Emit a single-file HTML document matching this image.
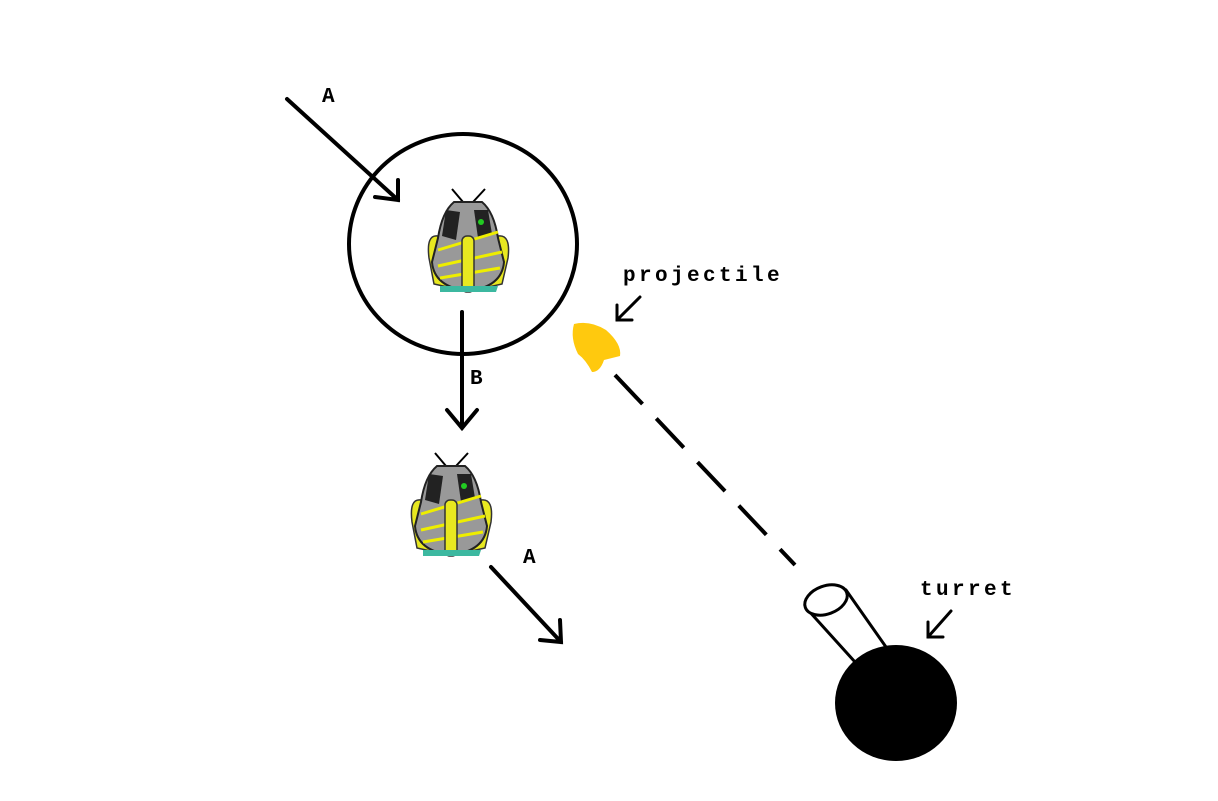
<!DOCTYPE html>
<html><head><style>body{margin:0;background:#fff}svg{display:block}text{font-family:"Liberation Mono",monospace;font-weight:bold;font-size:21px;fill:#000;letter-spacing:3.4px}</style></head>
<body>
<svg width="1218" height="801" viewBox="0 0 1218 801" xmlns="http://www.w3.org/2000/svg">
<defs>
<g id="ship">
<line x1="463" y1="202" x2="452" y2="189" stroke="#000" stroke-width="2"/>
<line x1="473" y1="202" x2="485" y2="189" stroke="#000" stroke-width="2"/>
<path d="M438 236 Q426 234 429 258 L434 284 L452 288 Z" fill="#e8e820" stroke="#333" stroke-width="1.5"/>
<path d="M498 236 Q511 234 508 258 L502 284 L484 288 Z" fill="#e8e820" stroke="#333" stroke-width="1.5"/>
<path d="M454 202 L482 202 Q494 212 498 238 L504 262 Q502 287 468 291 Q434 287 432 262 L438 238 Q442 212 454 202 Z" fill="#999" stroke="#222" stroke-width="2"/>
<path d="M446 210 L460 212 L456 240 L442 236 Z" fill="#222"/>
<path d="M474 210 L488 210 L492 234 L478 238 Z" fill="#222"/>
<circle cx="481" cy="222" r="3" fill="#2c2"/>
<path d="M438 250 L498 232 M438 266 L502 252 M440 278 L500 268" stroke="#ee0" stroke-width="3"/>
<rect x="462" y="236" width="12" height="56" rx="5" fill="#e8e820" stroke="#333" stroke-width="1.5"/>
<path d="M440 286 L498 286 L496 292 L440 292 Z" fill="#3cb8a0"/>
</g>
</defs>
<use href="#ship"/>
<use href="#ship" transform="translate(-17,264)"/>
<ellipse cx="463" cy="244" rx="114" ry="110" fill="none" stroke="#000" stroke-width="4"/>
<g stroke="#000" stroke-width="4" fill="none" stroke-linecap="round">
<path d="M287 99 L398 200 M375 197 L398 200 L398 180"/>
<path d="M462 312 L462 428 M447 410 L462 428 L477 410"/>
<path d="M491 567 L561 642 M540 640 L561 642 L560 620"/>
<path d="M640 297 L617 320 M617 305 L617 320 L632 320" stroke-width="3"/>
<path d="M951 611 L928 637 M928 622 L928 637 L943 637" stroke-width="3"/>
<path d="M615 375 L795 565" stroke-dasharray="40 20" stroke-linecap="butt"/>
<path d="M808 610 L855 662 M846 590 L886 647" stroke-width="3"/>
<ellipse cx="826" cy="600" rx="22" ry="14" transform="rotate(-20 826 600)" stroke-width="3" fill="#fff"/>
</g>
<ellipse cx="896" cy="703" rx="61" ry="58" fill="#000"/>
<path d="M574 324 Q590 320 606 330 Q622 344 620 356 L604 360 Q600 372 592 372 Q586 360 578 354 Q570 338 574 324 Z" fill="#ffc90e"/>
<text x="322" y="102">A</text>
<text x="470" y="384">B</text>
<text x="523" y="563">A</text>
<text x="623" y="281">projectile</text>
<text x="920" y="595">turret</text>
</svg>
</body></html>
